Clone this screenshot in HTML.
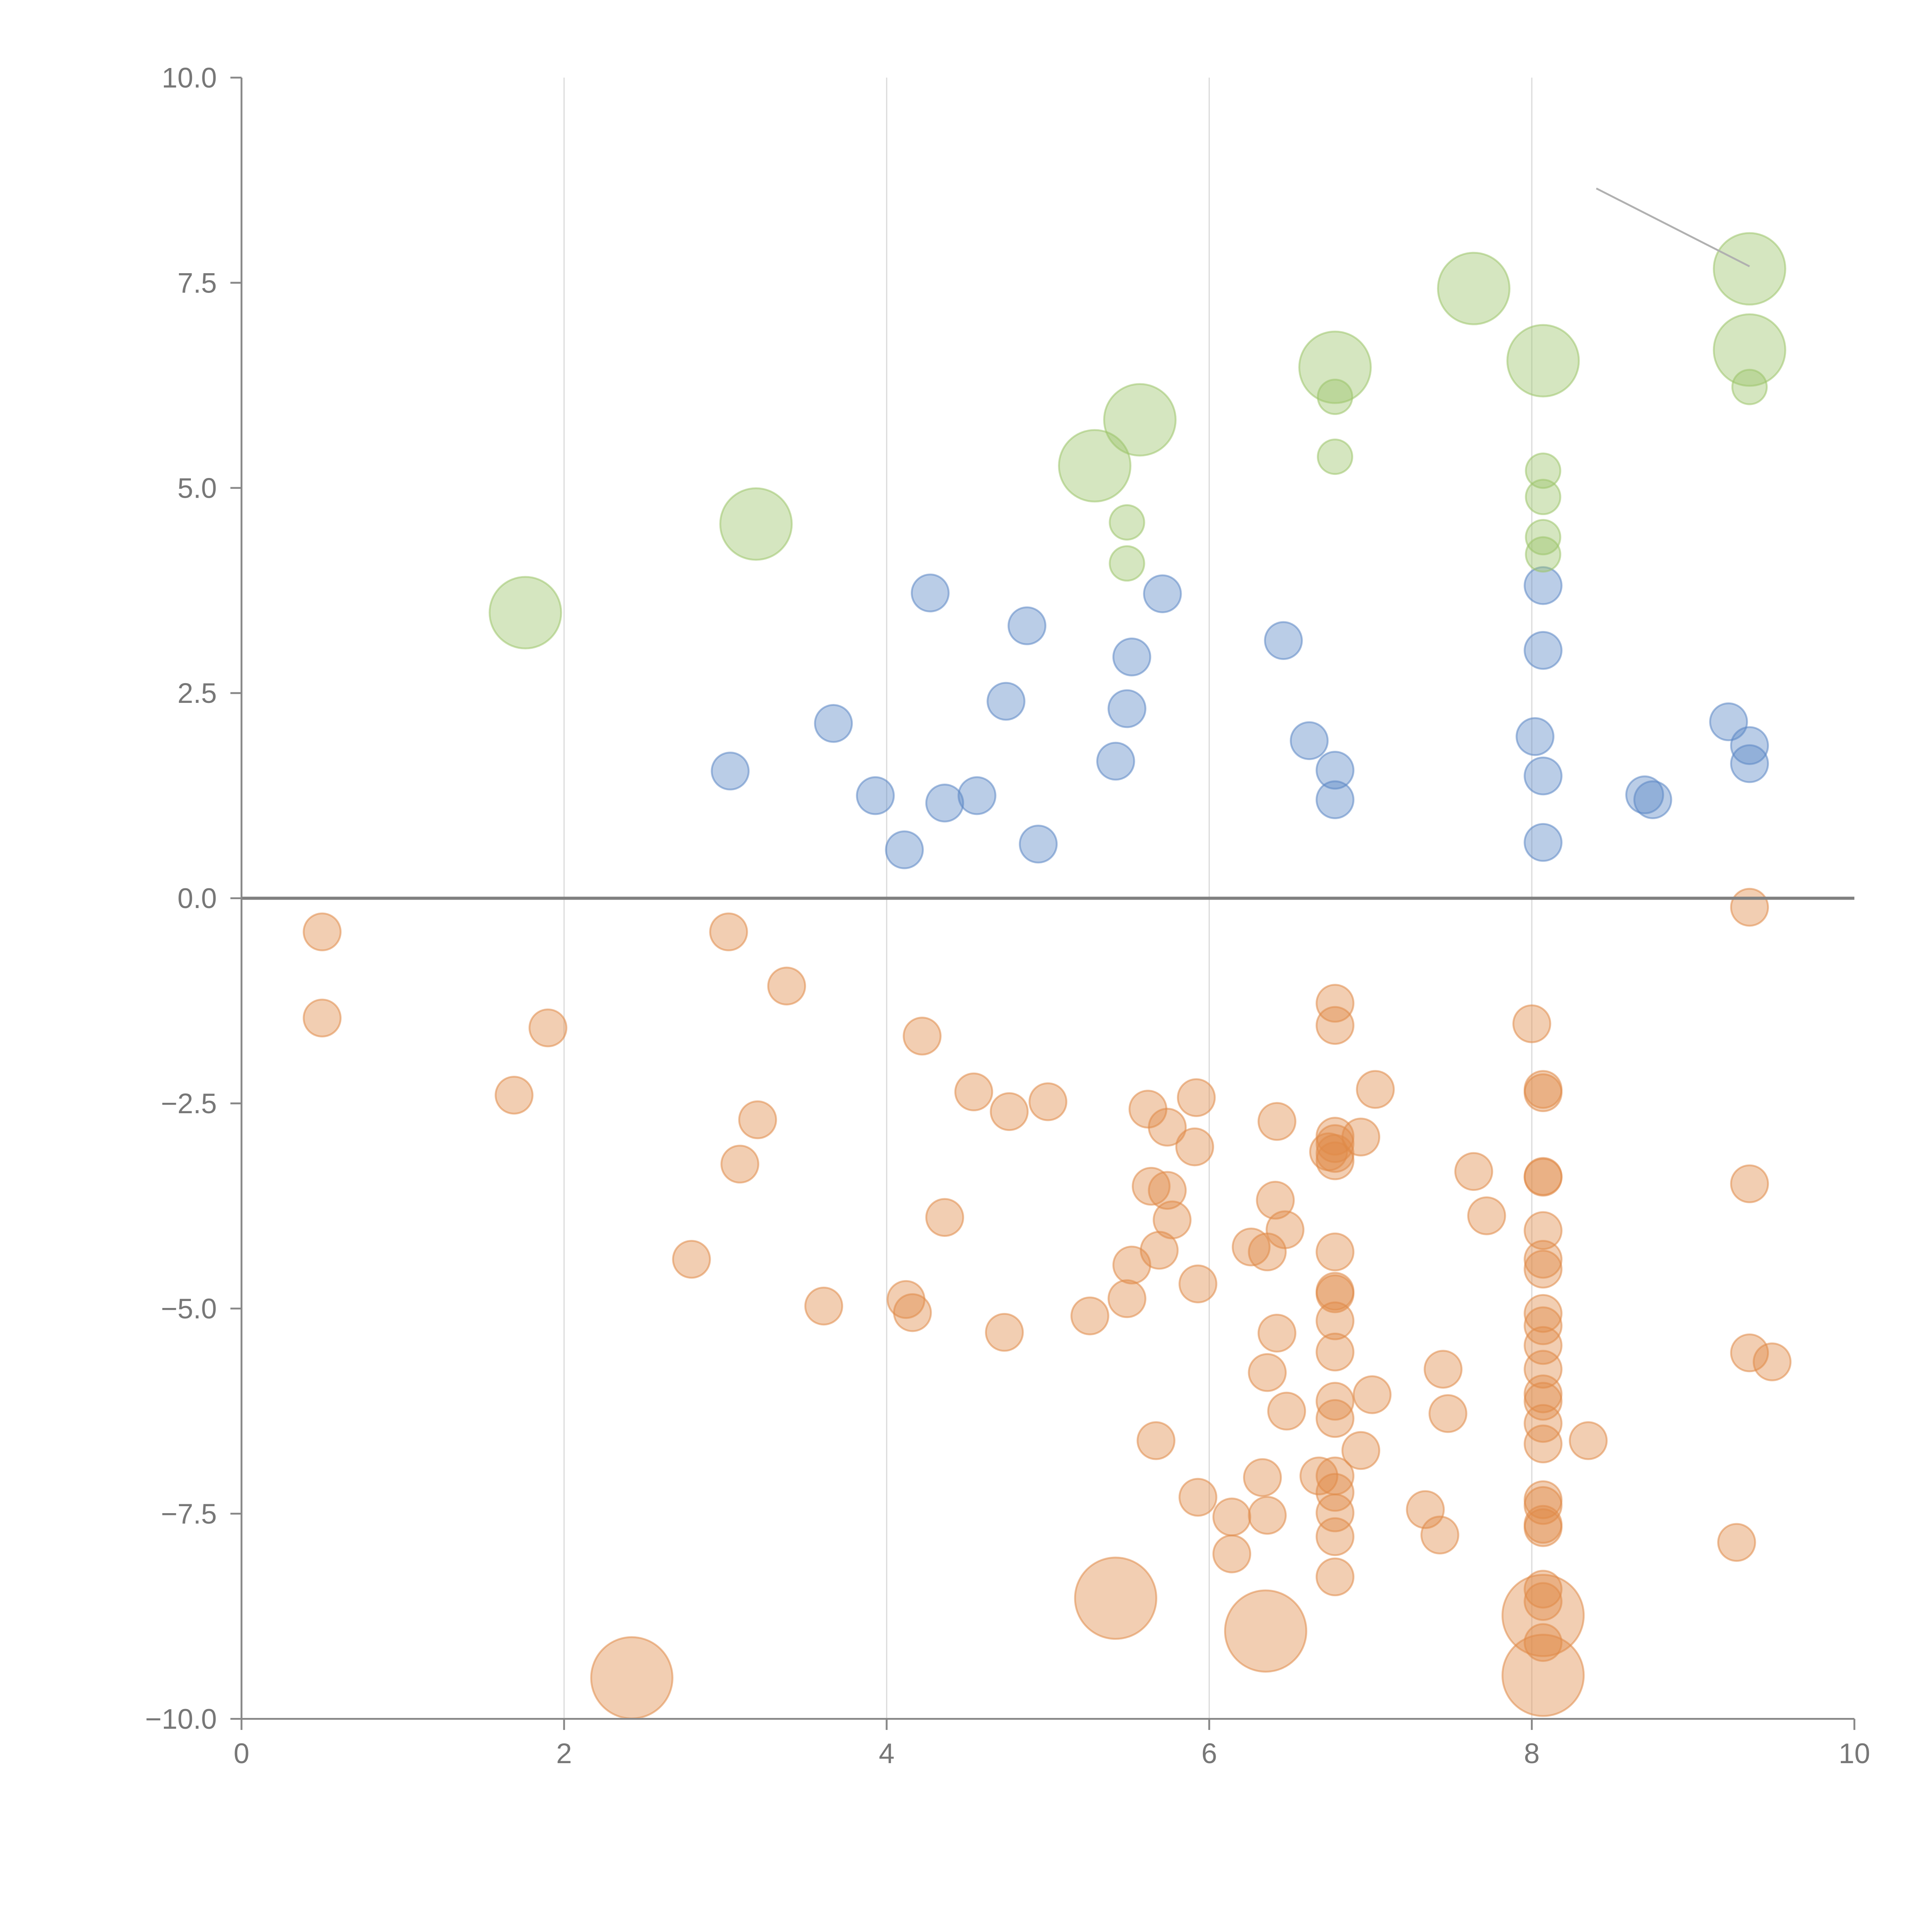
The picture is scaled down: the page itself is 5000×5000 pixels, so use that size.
<!DOCTYPE html>
<html><head><meta charset="utf-8"><style>html,body{margin:0;padding:0;background:#fff}svg{display:block}</style></head>
<body>
<svg id="chart" xmlns="http://www.w3.org/2000/svg" width="5000" height="5000" viewBox="0 0 1568 1568" font-family="Liberation Sans, sans-serif">
<g id="grid"></g>
<g id="marks"></g>
<g id="axes"></g>
</svg>
<script>
const xTicks=[0,2,4,6,8,10];
const yTicks=[10,7.5,5,2.5,0,-2.5,-5,-7.5,-10];
const yTickLabels=["10.0","7.5","5.0","2.5","0.0","\u22122.5","\u22125.0","\u22127.5","\u221210.0"];
const blueX=[3.03,3.67,3.93,4.11,4.27,4.36,4.56,4.74,4.87,4.94,5.42,5.49,5.52,5.71,6.46,6.62,6.78,6.78,8.02,8.07,8.07,8.07,8.07,8.70,8.75,9.22,9.35,9.35];
const blueY=[1.55,2.13,1.25,0.59,3.72,1.16,1.25,2.40,3.32,0.66,1.67,2.31,2.94,3.71,3.14,1.92,1.56,1.20,1.97,3.81,3.02,1.49,0.68,1.26,1.20,2.15,1.86,1.64];
const greenX=[5.49,5.49,6.78,6.78,8.07,8.07,8.07,8.07,9.35,1.76,3.19,5.29,5.57,6.78,7.64,8.07,9.35,9.35];
const greenY=[4.58,4.08,6.11,5.38,5.21,4.89,4.40,4.19,6.23,3.48,4.56,5.27,5.83,6.47,7.43,6.55,7.67,6.68];
const greenSize=[1,1,1,1,1,1,1,1,1,4.3,4.3,4.3,4.3,4.3,4.3,4.3,4.3,4.3];
const orangeX=[0.50,0.50,1.69,1.90,2.79,3.02,3.09,3.20,3.38,3.61,4.12,4.16,4.22,4.36,4.54,4.73,4.76,5.00,5.26,5.49,5.52,5.62,5.64,5.67,5.69,5.74,5.74,5.77,5.92,5.91,5.93,5.93,6.14,6.14,6.26,6.33,6.36,6.36,6.36,6.41,6.42,6.42,6.47,6.48,6.68,6.74,
6.78,6.78,6.78,6.78,6.78,6.78,6.78,6.78,6.78,6.78,6.78,6.78,6.78,6.78,6.78,6.78,6.78,6.78,
6.94,6.94,7.01,7.03,7.34,7.43,7.45,7.48,7.64,7.72,8.00,
8.07,8.07,8.07,8.07,8.07,8.07,8.07,8.07,8.07,8.07,8.07,8.07,8.07,8.07,8.07,8.07,8.07,8.07,8.07,8.07,8.07,8.07,
8.35,9.27,9.35,9.35,9.35,9.49,
2.42,5.42,6.35,8.07,8.07];
const orangeY=[-0.41,-1.46,-2.40,-1.58,-4.40,-0.41,-3.24,-2.70,-1.07,-4.97,-4.89,-5.05,-1.68,-3.89,-2.36,-5.29,-2.60,-2.48,-5.09,-4.88,-4.47,-2.57,-3.51,-6.61,-4.29,-2.79,-3.56,-3.92,-2.43,-3.03,-4.70,-7.30,-7.54,-7.99,-4.25,-7.06,-5.78,-7.52,-4.31,-3.68,-2.72,-5.30,-4.04,-6.25,-7.04,-3.09,
-1.28,-1.55,-2.90,-2.99,-3.11,-3.20,-4.31,-4.79,-4.82,-5.15,-5.53,-6.13,-6.34,-7.04,-7.24,-7.49,-7.78,-8.27,
-2.91,-6.73,-6.05,-2.33,-7.45,-7.76,-5.74,-6.28,-3.33,-3.87,-1.53,
-2.33,-2.37,-3.39,-3.40,-4.05,-4.40,-4.52,-5.06,-5.21,-5.45,-5.74,-6.04,-6.13,-6.40,-6.65,-7.33,-7.40,-7.63,-7.67,-8.42,-8.57,-9.07,
-6.61,-7.85,-0.11,-3.48,-5.54,-5.65,
-9.50,-8.53,-8.93,-8.74,-9.47];
const orangeLarge=5;
const X0=196,X1=1505,Y0=1395,Y1=63;
function sx(v){return X0+(v-0)/(10-0)*(X1-X0);}
function sy(v){return Y0-(v+10)/20*(Y0-Y1);}
const NS="http://www.w3.org/2000/svg";
function mk(t,a,p){const e=document.createElementNS(NS,t);for(const k in a)e.setAttribute(k,a[k]);p.appendChild(e);return e;}
const grid=document.getElementById('grid'),marks=document.getElementById('marks'),axes=document.getElementById('axes');
xTicks.forEach(t=>{if(t>0&&t<10){const l=mk('line',{x1:sx(t),x2:sx(t),y1:Y1,y2:Y0,stroke:'#dcdcdc','stroke-width':1},grid);

}});
function dot(x,y,r,fill,stroke,name){const c=mk('circle',{cx:sx(x),cy:sy(y),r:r,fill:fill,'fill-opacity':0.42,stroke:stroke,'stroke-opacity':0.55,'stroke-width':1.5},marks);

}
orangeX.forEach((x,i)=>{const big=i>=orangeX.length-orangeLarge;dot(x,orangeY[i],big?33:15,'#e08a48','#e08a48','orange-point');});
blueX.forEach((x,i)=>dot(x,blueY[i],15,'#5b87c5','#5b87c5','blue-point'));
greenX.forEach((x,i)=>dot(x,greenY[i],14*Math.sqrt(greenSize[i]),'#9cc46a','#9cc46a','green-point'));
const gl=mk('line',{x1:sx(8.4),y1:sy(8.65),x2:sx(9.35),y2:sy(7.7),stroke:'#b0b0b0','stroke-width':1.5},marks);


const zl=mk('line',{x1:X0,x2:X1,y1:sy(0),y2:sy(0),stroke:'#808080','stroke-width':2.5},axes);


const ya=mk('line',{x1:X0,x2:X0,y1:Y1,y2:Y0,stroke:'#888','stroke-width':1.5},axes);


const xa=mk('line',{x1:X0,x2:X1,y1:Y0,y2:Y0,stroke:'#888','stroke-width':1.5},axes);


yTicks.forEach((t,i)=>{mk('line',{x1:X0-9,x2:X0,y1:sy(t),y2:sy(t),stroke:'#888','stroke-width':1.5},axes);
const tx=mk('text',{x:X0-20,y:sy(t)+8,'text-anchor':'end','font-size':23,fill:'#777'},axes);tx.textContent=yTickLabels[i];

});
xTicks.forEach(t=>{mk('line',{x1:sx(t),x2:sx(t),y1:Y0,y2:Y0+9,stroke:'#888','stroke-width':1.5},axes);
const tx=mk('text',{x:sx(t),y:Y0+36,'text-anchor':'middle','font-size':23,fill:'#777'},axes);tx.textContent=String(t);

});
</script>
</body></html>
